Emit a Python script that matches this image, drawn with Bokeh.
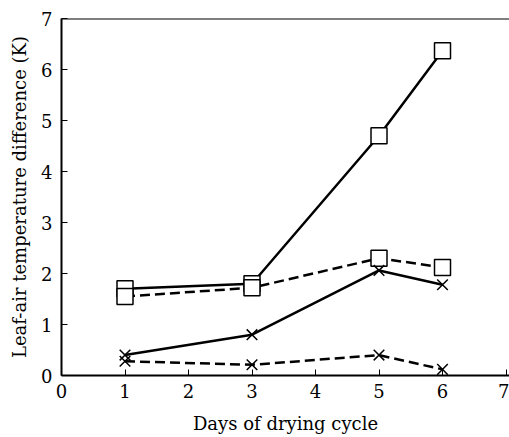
from bokeh.plotting import figure
from bokeh.models import Range1d, FixedTicker, Span
from bokeh.embed import file_html
from bokeh.resources import INLINE

days = [1, 3, 5, 6]
sq_solid = [1.70, 1.80, 4.70, 6.37]
sq_dashed = [1.55, 1.72, 2.30, 2.12]
x_solid = [0.40, 0.80, 2.06, 1.78]
x_dashed = [0.28, 0.21, 0.40, 0.12]
x_ticks = [0, 1, 2, 3, 4, 5, 6, 7]
y_ticks = [0, 1, 2, 3, 4, 5, 6, 7]

FONT = "DejaVu Serif"

p = figure(width=509, height=437, output_backend="svg", toolbar_location=None,
           x_range=Range1d(0, 7.055), y_range=Range1d(0, 7),
           min_border_left=61, min_border_right=0, min_border_top=18, min_border_bottom=62)
p.grid.visible = False
p.outline_line_color = None
p.background_fill_color = "white"
p.border_fill_color = "white"

for ax in (p.xaxis[0], p.yaxis[0]):
    ax.major_tick_in = 6
    ax.major_tick_out = 0
    ax.minor_tick_line_color = None
    ax.axis_line_width = 2
    ax.axis_line_color = "black"
    ax.major_tick_line_color = "black"
    ax.major_label_text_font = FONT
    ax.major_label_text_font_size = "18px"
    ax.major_label_text_color = "black"
    ax.axis_label_text_font = FONT
    ax.axis_label_text_font_size = "18px"
    ax.axis_label_text_font_style = "normal"
    ax.axis_label_text_color = "black"

p.xaxis.ticker = FixedTicker(ticks=x_ticks)
p.yaxis.ticker = FixedTicker(ticks=y_ticks)
p.xaxis.axis_label = "Days of drying cycle"
p.yaxis.axis_label = "Leaf-air temperature difference (K)"
p.xaxis.major_label_standoff = 8
p.yaxis.major_label_standoff = 9
p.xaxis.axis_label_standoff = 12
p.yaxis.axis_label_standoff = 8

p.add_layout(Span(location=7, dimension="width", line_color="black", line_width=2))

p.line(days, sq_solid, line_color="black", line_width=2.5)
p.line(days, sq_dashed, line_color="black", line_width=2.5, line_dash="10 5")
p.line(days, x_solid, line_color="black", line_width=2.5)
p.line(days, x_dashed, line_color="black", line_width=2.5, line_dash="10 5")

p.scatter(days, sq_solid, marker="square", size=16, fill_color="white", line_color="black", line_width=1.5)
p.scatter(days, sq_dashed, marker="square", size=16, fill_color="white", line_color="black", line_width=1.5)
p.scatter(days, x_solid, marker="x", size=15, line_color="black", line_width=1.5)
p.scatter(days, x_dashed, marker="x", size=15, line_color="black", line_width=1.5)

open("out.html", "w").write(file_html(p, INLINE))
